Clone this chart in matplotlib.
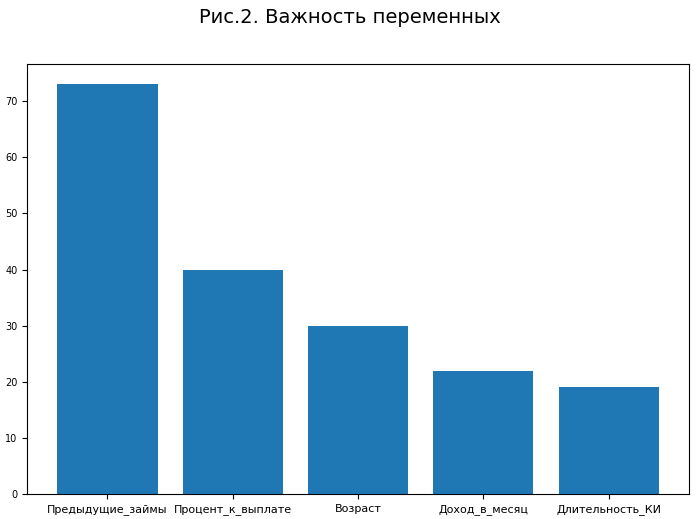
import matplotlib
matplotlib.use('Agg')
import matplotlib.pyplot as plt

features = ['Предыдущие_займы', 'Процент_к_выплате', 'Возраст',
            'Доход_в_месяц', 'Длительность_КИ']
importance = [73, 40, 30, 22, 19]

fig = plt.figure(figsize=(7, 5.19), dpi=100)
ax = fig.add_axes([0.039, 0.048, 0.945, 0.829])
ax.bar(features, importance, color='#1f77b4')
ax.tick_params(axis='x', labelsize=8)
ax.tick_params(axis='y', labelsize=7)
fig.suptitle('Рис.2. Важность переменных', fontsize=14, y=0.985)

fig.savefig('out.png', dpi=100)
